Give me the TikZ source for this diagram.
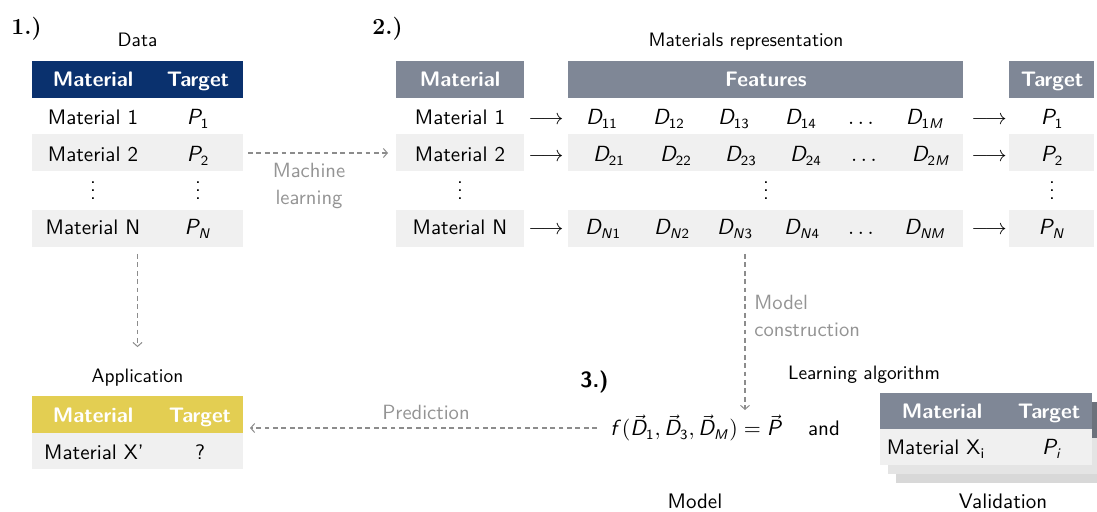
\documentclass[tikz,border=0pt]{standalone}
\usetikzlibrary{arrows.meta}

% sans-serif letters for the formulas
\DeclareMathAlphabet{\mathsfit}{OT1}{cmss}{m}{sl}
\DeclareMathAlphabet{\mathsfup}{OT1}{cmss}{m}{n}
\newcommand{\dgFeat}[1]{$\mathsfit{D}_{#1}$}
\newcommand{\dgTab}{\sffamily\fontsize{10.5}{12}\selectfont}
\newcommand{\dgHead}{\sffamily\bfseries\fontsize{10.5}{12}\selectfont}
\newcommand{\dgTitle}{\sffamily\fontsize{9.7}{11}\selectfont}
\newcommand{\dgNote}{\sffamily\fontsize{10.3}{13.5}\selectfont}

\definecolor{navy}{RGB}{10,49,110}
\definecolor{slate}{RGB}{127,135,150}
\definecolor{slatedark}{RGB}{108,114,124}
\definecolor{mustard}{RGB}{227,206,82}
\definecolor{rowgray}{RGB}{240,240,240}
\definecolor{rowgrayB}{RGB}{228,228,228}
\definecolor{rowgrayC}{RGB}{216,216,216}
\definecolor{conngray}{RGB}{140,140,140}
\definecolor{notegray}{RGB}{148,148,148}

\begin{document}
\begin{tikzpicture}[x=0.5pt,y=-0.5pt,
  box/.style={draw=none, inner sep=0pt, outer sep=0pt},
  hdbox/.style={box, minimum height=0.5*37pt},
  rowbox/.style={box, fill=rowgray, minimum height=0.5*37pt},
  cell/.style={anchor=base, inner sep=0pt, font=\dgTab},
  hd/.style={anchor=base, inner sep=0pt, font=\dgHead, text=white},
  ttl/.style={anchor=base, inner sep=0pt, font=\dgTitle},
  note/.style={inner sep=0pt, font=\dgNote, text=notegray},
  num/.style={anchor=base west, inner sep=0pt},
  conn/.style={draw=conngray, line width=0.6pt, dash pattern=on 2.4pt off 1.8pt,
    -{Straight Barb[length=2pt,width=4.5pt,line width=0.5pt]}}
]
\useasboundingbox (0,0) rectangle (1097,512);
\clip (0,0) rectangle (1097,512);

% ---------- 1.) data table ----------
\node[num, font=\rmfamily\bfseries\fontsize{11.5}{13}\selectfont] (n1) at (11,35) {1.)};
\node[ttl] (data-ttl) at (137.5,47) {Data};
\node[hdbox, fill=navy, minimum width=0.5*211pt] (d-head) at (137.5,79.5) {};
\node[hd] (d-hm) at (93,87) {Material};
\node[hd] (d-ht) at (198,87) {Target};
\node[rowbox, minimum width=0.5*211pt] (d-r2) at (137.5,153) {};
\node[rowbox, minimum width=0.5*211pt] (d-rN) at (137.5,228.5) {};
\node[cell] (d-m1) at (93,125) {Material 1};
\node[cell] (d-p1) at (198,125) {$\mathsfit{P}_{\mathsfup{1}}$};
\node[cell] (d-m2) at (93,162) {Material 2};
\node[cell] (d-p2) at (198,162) {$\mathsfit{P}_{\mathsfup{2}}$};
\node[cell] (d-mv) at (93,200) {$\vdots$};
\node[cell] (d-pv) at (198,200) {$\vdots$};
\node[cell] (d-mN) at (93,235) {Material N};
\node[cell] (d-pN) at (198,235) {$\mathsfit{P}_{\mathsfit{N}}$};

% ---------- 2.) materials representation ----------
\node[num, font=\rmfamily\bfseries\fontsize{11.5}{13}\selectfont] (n2) at (372,35) {2.)};
\node[ttl] (rep-ttl) at (746,47) {Materials representation};

\node[hdbox, fill=slate, minimum width=0.5*128pt] (m-head) at (460,79.5) {};
\node[hd] at (460,87) {Material};
\node[hdbox, fill=slate, minimum width=0.5*395pt] (f-head) at (765.5,79.5) {};
\node[hd] at (766,87) {Features};
\node[hdbox, fill=slate, minimum width=0.5*85pt] (t-head) at (1051.5,79.5) {};
\node[hd] at (1052,87) {Target};

\node[rowbox, minimum width=0.5*128pt] (m-r2) at (460,153) {};
\node[rowbox, minimum width=0.5*128pt] (m-rN) at (460,228.5) {};
\node[rowbox, minimum width=0.5*395pt] (f-r2) at (765.5,153) {};
\node[rowbox, minimum width=0.5*395pt] (f-rN) at (765.5,228.5) {};
\node[rowbox, minimum width=0.5*85pt] (t-r2) at (1051.5,153) {};
\node[rowbox, minimum width=0.5*85pt] (t-rN) at (1051.5,228.5) {};

% material column
\node[cell] at (460,125) {Material 1};
\node[cell] at (460,162) {Material 2};
\node[cell] at (460,200) {$\vdots$};
\node[cell] at (460,235) {Material N};
% mapping arrows
\foreach \yy in {125,162,235}{
  \node[cell] at (546,\yy) {$\longrightarrow$};
  \node[cell] at (989,\yy) {$\longrightarrow$};
}
% feature rows
\node[cell] at (602,125) {\dgFeat{\mathsfup{11}}};
\node[cell] at (669,125) {\dgFeat{\mathsfup{12}}};
\node[cell] at (734,125) {\dgFeat{\mathsfup{13}}};
\node[cell] at (801,125) {\dgFeat{\mathsfup{14}}};
\node[cell] at (861,125) {$\dots$};
\node[cell] at (925,125) {\dgFeat{\mathsfup{1}\mathsfit{M}}};

\node[cell] at (609,162) {\dgFeat{\mathsfup{21}}};
\node[cell] at (676,162) {\dgFeat{\mathsfup{22}}};
\node[cell] at (741,162) {\dgFeat{\mathsfup{23}}};
\node[cell] at (806,162) {\dgFeat{\mathsfup{24}}};
\node[cell] at (864,162) {$\dots$};
\node[cell] at (931,162) {\dgFeat{\mathsfup{2}\mathsfit{M}}};

\node[cell] at (766,200) {$\vdots$};

\node[cell] at (603,235) {\dgFeat{\mathsfit{N}\mathsfup{1}}};
\node[cell] at (672,235) {\dgFeat{\mathsfit{N}\mathsfup{2}}};
\node[cell] at (735,235) {\dgFeat{\mathsfit{N}\mathsfup{3}}};
\node[cell] at (802,235) {\dgFeat{\mathsfit{N}\mathsfup{4}}};
\node[cell] at (861,235) {$\dots$};
\node[cell] at (925,235) {\dgFeat{\mathsfit{NM}}};
% target column
\node[cell] at (1052,125) {$\mathsfit{P}_{\mathsfup{1}}$};
\node[cell] at (1052,162) {$\mathsfit{P}_{\mathsfup{2}}$};
\node[cell] at (1052,200) {$\vdots$};
\node[cell] at (1052,235) {$\mathsfit{P}_{\mathsfit{N}}$};

% machine learning step
\draw[conn, shorten <=2.5pt, shorten >=4pt] (d-r2.east) -- (m-r2.west);
\node[note, anchor=north, align=center] (ml-lbl) at (309,162.5) {Machine\\learning};

% ---------- application ----------
\node[ttl] (app-ttl) at (137.5,383) {Application};
\draw[conn, shorten <=3.5pt, shorten >=11pt] (d-rN.south) -- (app-ttl.north);
\node[hdbox, fill=mustard, minimum width=0.5*211pt] (a-head) at (137.5,414.5) {};
\node[hd] at (93,423) {Material};
\node[hd] at (200,423) {Target};
\node[rowbox, minimum width=0.5*211pt, minimum height=0.5*36pt] (a-r1) at (137.5,451) {};
\node[cell] at (94,460) {Material X'};
\node[cell] at (200,460) {?};

% ---------- 3.) model ----------
\node[num, font=\sffamily\bfseries\fontsize{11}{13}\selectfont] (n3) at (580,388) {3.)};
\coordinate (rep-bottom) at (745,254);
\coordinate (model-top) at (745,410);
\draw[conn] (rep-bottom) -- (model-top);
\node[note, anchor=north west, align=left] (mc-lbl) at (754,294.5) {Model\\construction};

\node[anchor=base west, inner sep=0pt, font=\dgTab] (formula) at (610,436)
  {$\mathsfit{f}(\vec{\mathsfit{D}}_{\mathsfup{1}}, \vec{\mathsfit{D}}_{\mathsfup{3}}, \vec{\mathsfit{D}}_{\mathsfit{M}}) = \vec{\mathsfit{P}}$};
\node[cell] (and) at (824,436) {and};
\node[ttl] (la-ttl) at (864,380) {Learning algorithm};

\draw[conn, shorten <=6.5pt, shorten >=3.5pt] (formula.west) -- (formula.west -| a-head.east);
\node[note, anchor=base] (pred-lbl) at (426,420) {Prediction};

% validation stack
\node[hdbox, fill=slatedark, minimum width=0.5*212pt, minimum height=0.5*36pt] (v3-head) at (1002,429) {};
\node[box, fill=rowgrayC, minimum width=0.5*212pt, minimum height=0.5*36pt] (v3-row) at (1002,465) {};
\node[hdbox, fill=slatedark, minimum width=0.5*212pt, minimum height=0.5*36pt] (v2-head) at (994,420) {};
\node[box, fill=rowgrayB, minimum width=0.5*212pt, minimum height=0.5*36pt] (v2-row) at (994,456) {};
\node[hdbox, fill=slate, minimum width=0.5*212pt, minimum height=0.5*36pt] (v-head) at (986,411) {};
\node[box, fill=rowgray, minimum width=0.5*212pt, minimum height=0.5*36pt] (v-row) at (986,447) {};
\node[hd] at (942,419) {Material};
\node[hd] at (1049,419) {Target};
\node[cell] at (936,455) {Material X\textsubscript{i}};
\node[cell] at (1052,455) {$\mathsfit{P}_{\mathsfit{i}}$};

\node[cell] (model-lbl) at (695,509) {Model};
\node[cell] (valid-lbl) at (1003,509) {Validation};
\end{tikzpicture}
\end{document}
